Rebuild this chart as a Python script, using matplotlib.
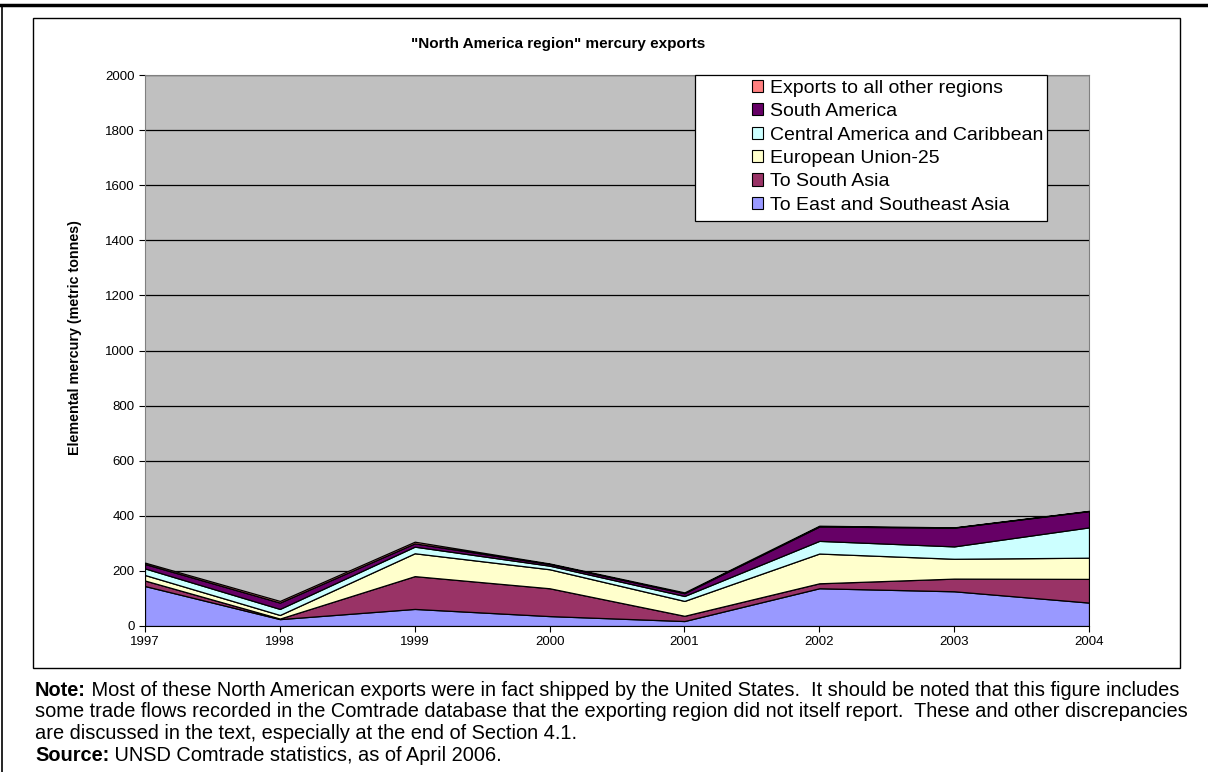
import matplotlib.pyplot as plt
from matplotlib.patches import Rectangle, Patch
from matplotlib.lines import Line2D

plt.rcParams['font.family'] = ['Liberation Sans', 'DejaVu Sans']

years = [1997, 1998, 1999, 2000, 2001, 2002, 2003, 2004]
east_se_asia = [145, 25, 62, 36, 18, 137, 126, 85]
south_asia = [20, 2, 119, 101, 19, 18, 46, 86]
eu25 = [20, 13, 83, 69, 54, 108, 72, 77]
central_am = [24, 22, 24, 13, 18, 46, 45, 110]
south_am = [16, 23, 12, 6, 10, 52, 68, 59]
other = [5, 6, 6, 2, 3, 3, 1, 1]

labels = ['To East and Southeast Asia', 'To South Asia', 'European Union-25',
          'Central America and Caribbean', 'South America', 'Exports to all other regions']
colors = ['#9999FF', '#993366', '#FFFFCC', '#CCFFFF', '#660066', '#FF8080']

W, H = 1208, 772
fig = plt.figure(figsize=(W / 100, H / 100), dpi=100)

def fx(px):
    return px / W

def fy(py):
    return 1 - py / H

# outer page frame
fig.add_artist(Line2D([0, 1], [fy(5), fy(5)], color='black', lw=2.5, transform=fig.transFigure))
fig.add_artist(Line2D([fx(2), fx(2)], [fy(5), 0], color='black', lw=1.2, transform=fig.transFigure))
# chart frame
fig.add_artist(Rectangle((fx(33), fy(668)), fx(1180) - fx(33), fy(18) - fy(668),
                         fill=False, edgecolor='black', lw=1.0, transform=fig.transFigure))

left, right, top, bottom = 145, 1089, 75, 626
ax = fig.add_axes([fx(left), fy(bottom), fx(right) - fx(left), fy(top) - fy(bottom)])
ax.set_facecolor('#C0C0C0')

series = [east_se_asia, south_asia, eu25, central_am, south_am, other]
ax.stackplot(years, *series, colors=colors, edgecolor='black', linewidth=0.9, zorder=3)

ax.set_xlim(years[0], years[-1])
ax.set_ylim(0, 2000)
ax.set_yticks(range(0, 2001, 200))
ax.set_xticks(years)
ax.tick_params(labelsize=9.5, direction='out', length=4, width=0.8, colors='black')
ax.yaxis.grid(True, color='black', lw=0.9, zorder=1)
ax.set_axisbelow(True)
for s in ['top', 'right', 'left']:
    ax.spines[s].set_color('#808080')
ax.spines['bottom'].set_color('black')

fig.text(fx(75), fy(338), 'Elemental mercury (metric tonnes)', rotation=90,
         ha='center', va='center', fontsize=10.3, fontweight='bold')
fig.text(fx(558), fy(44), '"North America region" mercury exports', ha='center', va='center',
         fontsize=11, fontweight='bold')

# legend box
fig.add_artist(Rectangle((fx(695), fy(221)), fx(1047) - fx(695), fy(75) - fy(221),
                         facecolor='white', edgecolor='black', lw=0.9, transform=fig.transFigure,
                         zorder=5))
handles = [Patch(facecolor=c, edgecolor='black', lw=0.8) for c in colors][::-1]
leg = fig.legend(handles, labels[::-1], loc='upper left', bbox_to_anchor=(fx(738), fy(66)),
                 frameon=False, fontsize=14.0, handlelength=0.6, handleheight=0.6,
                 handletextpad=0.35, labelspacing=0.33, borderpad=0.2)
leg.set_zorder(6)

note_lines = [
    ('Note:', ' Most of these North American exports were in fact shipped by the United States.  It should be noted that this figure includes'),
    ('', 'some trade flows recorded in the Comtrade database that the exporting region did not itself report.  These and other discrepancies'),
    ('', 'are discussed in the text, especially at the end of Section 4.1.'),
    ('Source:', ' UNSD Comtrade statistics, as of April 2006.'),
]
fig.canvas.draw()
y = 690
for bold, rest in note_lines:
    xpos = fx(35)
    if bold:
        t = fig.text(xpos, fy(y), bold, fontsize=14.4, fontweight='bold', va='center', ha='left')
        bb = t.get_window_extent(renderer=fig.canvas.get_renderer())
        xpos = bb.x1 / W
    fig.text(xpos, fy(y), rest, fontsize=14.4, va='center', ha='left')
    y += 21.7

fig.savefig('out.png', dpi=100)
